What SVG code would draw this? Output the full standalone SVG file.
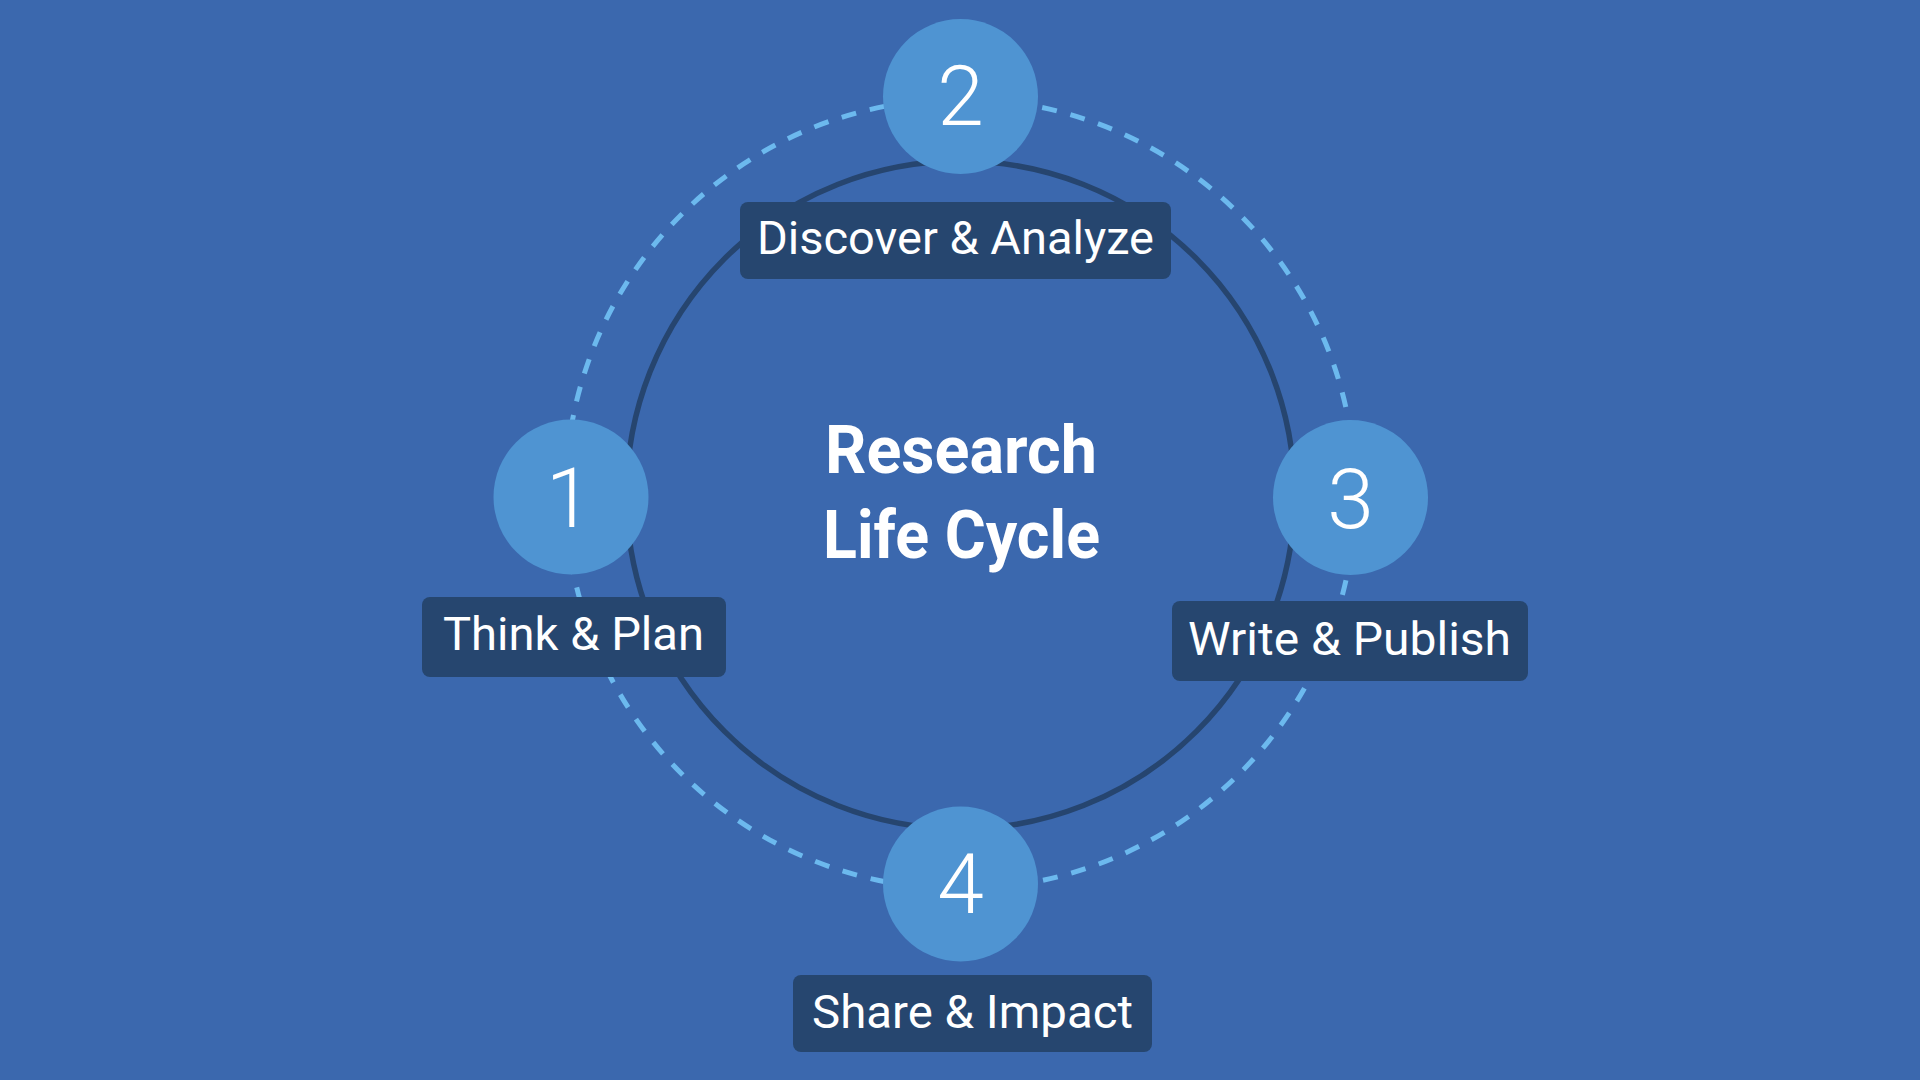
<svg xmlns="http://www.w3.org/2000/svg" width="1920" height="1080" viewBox="0 0 1920 1080">
  <style>
    .bg { fill: #3b68ae; }
    .ring { fill: none; stroke: #26456f; stroke-width: 5.5; }
    .dash { fill: none; stroke: #6cb9ee; stroke-width: 5; stroke-dasharray: 15 14; }
    .node { fill: #4f94d2; }
    .num { font-family: Roboto, "Liberation Sans", sans-serif; font-size: 84px; font-weight: 300; fill: #ffffff; text-anchor: middle; }
    .box { fill: #26466f; }
    .lbl { font-family: Roboto, "Liberation Sans", sans-serif; font-size: 46px; font-weight: 400; fill: #ffffff; }
    .title { font-family: Roboto, "Liberation Sans", sans-serif; font-size: 67px; font-weight: 700; fill: #ffffff; }
  </style>
  <rect class="bg" x="0" y="0" width="1920" height="1080"/>
  <g id="connectors">
    <circle class="dash" cx="960.5" cy="494" r="395"/>
    <circle class="ring" cx="960.5" cy="495" r="334"/>
  </g>
  <g id="title">
    <text class="title" x="825" y="473" textLength="272" lengthAdjust="spacingAndGlyphs">Research</text>
    <text class="title" x="823" y="558" textLength="277" lengthAdjust="spacingAndGlyphs">Life Cycle</text>
  </g>
  <g id="node-1">
    <circle class="node" cx="571" cy="497" r="77.5"/>
    <text class="num" x="569" y="527">1</text>
    <rect class="box" x="422" y="597" width="304" height="80" rx="8"/>
    <text class="lbl" x="443" y="650" textLength="261" lengthAdjust="spacingAndGlyphs">Think &amp; Plan</text>
  </g>
  <g id="node-2">
    <circle class="node" cx="960.5" cy="96.5" r="77.5"/>
    <text class="num" x="960.5" y="125">2</text>
    <rect class="box" x="740" y="202" width="431" height="77" rx="8"/>
    <text class="lbl" x="757" y="254" textLength="397" lengthAdjust="spacingAndGlyphs">Discover &amp; Analyze</text>
  </g>
  <g id="node-3">
    <circle class="node" cx="1350.5" cy="497.5" r="77.5"/>
    <text class="num" x="1350.5" y="528">3</text>
    <rect class="box" x="1172" y="601" width="356" height="80" rx="8"/>
    <text class="lbl" x="1188" y="655" textLength="323" lengthAdjust="spacingAndGlyphs">Write &amp; Publish</text>
  </g>
  <g id="node-4">
    <circle class="node" cx="960.5" cy="884" r="77.5"/>
    <text class="num" x="960.5" y="913">4</text>
    <rect class="box" x="793" y="975" width="359" height="77" rx="8"/>
    <text class="lbl" x="812" y="1028" textLength="321" lengthAdjust="spacingAndGlyphs">Share &amp; Impact</text>
  </g>
</svg>
